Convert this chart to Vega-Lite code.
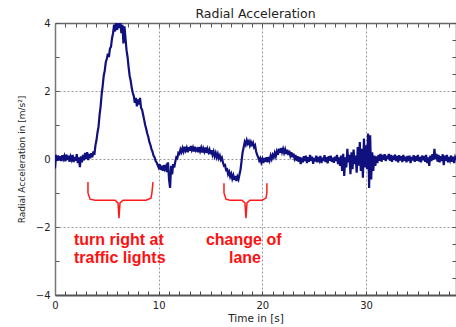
{
"$schema": "https://vega.github.io/schema/vega-lite/v6.json",
"width": 401, "height": 272,
"autosize": {"type": "none"},
"padding": {"left": 55, "top": 23, "right": 0, "bottom": 32},
"background": "white",
"title": {"text": "Radial Acceleration", "font": "DejaVu Sans", "fontSize": 12.5, "fontWeight": "normal", "color": "#222", "offset": 5, "dy": 7},
"config": {"view": {"stroke": null}},
"datasets": {
"sig": [
{"t":0.0,"a":-0.28},{"t":0.1,"a":0.12},{"t":0.2,"a":-0.05},{"t":0.3,"a":0.1},{"t":0.4,"a":-0.04},{"t":0.5,"a":0.08},{"t":0.6,"a":-0.06},{"t":0.7,"a":0.11},{"t":0.8,"a":0.0},{"t":0.9,"a":0.09},
{"t":1.0,"a":-0.07},{"t":1.1,"a":0.13},{"t":1.2,"a":-0.03},{"t":1.3,"a":0.1},{"t":1.4,"a":-0.08},{"t":1.5,"a":0.07},{"t":1.6,"a":-0.02},{"t":1.7,"a":0.12},{"t":1.8,"a":-0.09},{"t":1.9,"a":0.06},
{"t":2.0,"a":-0.05},{"t":2.1,"a":0.14},{"t":2.2,"a":-0.12},{"t":2.3,"a":0.05},{"t":2.4,"a":-0.24},{"t":2.5,"a":0.08},{"t":2.6,"a":-0.1},{"t":2.7,"a":0.12},{"t":2.8,"a":-0.04},{"t":2.9,"a":0.18},
{"t":3.0,"a":0.0},{"t":3.1,"a":0.2},{"t":3.2,"a":-0.03},{"t":3.3,"a":0.15},{"t":3.4,"a":0.02},{"t":3.5,"a":0.17},{"t":3.6,"a":0.05},{"t":3.7,"a":0.22},{"t":3.8,"a":0.12},{"t":3.9,"a":0.4},
{"t":4.0,"a":0.55},{"t":4.1,"a":0.78},{"t":4.2,"a":0.95},{"t":4.3,"a":1.3},{"t":4.4,"a":1.55},{"t":4.5,"a":1.9},{"t":4.6,"a":2.15},{"t":4.7,"a":2.45},{"t":4.8,"a":2.6},{"t":4.9,"a":2.85},
{"t":5.0,"a":2.95},{"t":5.1,"a":3.1},{"t":5.2,"a":3.0},{"t":5.3,"a":3.25},{"t":5.4,"a":3.3},{"t":5.5,"a":3.55},{"t":5.6,"a":3.7},{"t":5.7,"a":3.95},{"t":5.8,"a":3.75},{"t":5.9,"a":4.05},
{"t":6.0,"a":3.8},{"t":6.1,"a":4.05},{"t":6.2,"a":3.85},{"t":6.3,"a":4.05},{"t":6.4,"a":3.7},{"t":6.5,"a":3.95},{"t":6.6,"a":3.4},{"t":6.7,"a":3.9},{"t":6.8,"a":3.55},{"t":6.9,"a":3.2},
{"t":7.0,"a":3.0},{"t":7.1,"a":2.7},{"t":7.2,"a":2.45},{"t":7.3,"a":2.3},{"t":7.4,"a":2.1},{"t":7.5,"a":1.95},{"t":7.6,"a":1.85},{"t":7.7,"a":1.65},{"t":7.8,"a":1.8},{"t":7.9,"a":1.55},
{"t":8.0,"a":1.75},{"t":8.1,"a":1.6},{"t":8.2,"a":1.8},{"t":8.3,"a":1.5},{"t":8.4,"a":1.45},{"t":8.5,"a":1.3},{"t":8.6,"a":1.15},{"t":8.7,"a":1.0},{"t":8.8,"a":0.88},{"t":8.9,"a":0.75},
{"t":9.0,"a":0.65},{"t":9.1,"a":0.5},{"t":9.2,"a":0.42},{"t":9.3,"a":0.3},{"t":9.4,"a":0.22},{"t":9.5,"a":0.1},{"t":9.6,"a":0.05},{"t":9.7,"a":-0.05},{"t":9.8,"a":-0.1},{"t":9.9,"a":-0.18},
{"t":10.0,"a":-0.25},{"t":10.1,"a":-0.15},{"t":10.2,"a":-0.32},{"t":10.3,"a":-0.2},{"t":10.4,"a":-0.35},{"t":10.5,"a":-0.18},{"t":10.6,"a":-0.3},{"t":10.7,"a":-0.22},{"t":10.8,"a":-0.38},{"t":10.9,"a":-0.1},
{"t":11.0,"a":-0.6},{"t":11.1,"a":-0.85},{"t":11.2,"a":-0.2},{"t":11.3,"a":-0.45},{"t":11.4,"a":-0.15},{"t":11.5,"a":-0.25},{"t":11.6,"a":-0.08},{"t":11.7,"a":0.05},{"t":11.8,"a":0.02},{"t":11.9,"a":0.18},
{"t":12.0,"a":0.15},{"t":12.1,"a":0.28},{"t":12.2,"a":0.2},{"t":12.3,"a":0.32},{"t":12.4,"a":0.22},{"t":12.5,"a":0.36},{"t":12.6,"a":0.25},{"t":12.7,"a":0.33},{"t":12.8,"a":0.2},{"t":12.9,"a":0.35},
{"t":13.0,"a":0.24},{"t":13.1,"a":0.38},{"t":13.2,"a":0.26},{"t":13.3,"a":0.34},{"t":13.4,"a":0.22},{"t":13.5,"a":0.36},{"t":13.6,"a":0.25},{"t":13.7,"a":0.3},{"t":13.8,"a":0.2},{"t":13.9,"a":0.35},
{"t":14.0,"a":0.23},{"t":14.1,"a":0.33},{"t":14.2,"a":0.19},{"t":14.3,"a":0.31},{"t":14.4,"a":0.22},{"t":14.5,"a":0.34},{"t":14.6,"a":0.18},{"t":14.7,"a":0.3},{"t":14.8,"a":0.2},{"t":14.9,"a":0.28},
{"t":15.0,"a":0.14},{"t":15.1,"a":0.26},{"t":15.2,"a":0.12},{"t":15.3,"a":0.22},{"t":15.4,"a":0.08},{"t":15.5,"a":0.18},{"t":15.6,"a":0.05},{"t":15.7,"a":0.15},{"t":15.8,"a":0.02},{"t":15.9,"a":0.1},
{"t":16.0,"a":-0.02},{"t":16.1,"a":0.04},{"t":16.2,"a":-0.1},{"t":16.3,"a":-0.2},{"t":16.4,"a":-0.18},{"t":16.5,"a":-0.32},{"t":16.6,"a":-0.3},{"t":16.7,"a":-0.45},{"t":16.8,"a":-0.38},{"t":16.9,"a":-0.52},
{"t":17.0,"a":-0.44},{"t":17.1,"a":-0.58},{"t":17.2,"a":-0.48},{"t":17.3,"a":-0.62},{"t":17.4,"a":-0.5},{"t":17.5,"a":-0.65},{"t":17.6,"a":-0.52},{"t":17.7,"a":-0.6},{"t":17.8,"a":-0.45},{"t":17.9,"a":-0.3},
{"t":18.0,"a":-0.05},{"t":18.1,"a":0.2},{"t":18.2,"a":0.35},{"t":18.3,"a":0.5},{"t":18.4,"a":0.42},{"t":18.5,"a":0.55},{"t":18.6,"a":0.45},{"t":18.7,"a":0.52},{"t":18.8,"a":0.4},{"t":18.9,"a":0.5},
{"t":19.0,"a":0.42},{"t":19.1,"a":0.48},{"t":19.2,"a":0.35},{"t":19.3,"a":0.4},{"t":19.4,"a":0.22},{"t":19.5,"a":0.12},{"t":19.6,"a":0.05},{"t":19.7,"a":-0.05},{"t":19.8,"a":0.02},{"t":19.9,"a":-0.1},
{"t":20.0,"a":0.0},{"t":20.1,"a":-0.12},{"t":20.2,"a":0.03},{"t":20.3,"a":-0.08},{"t":20.4,"a":0.05},{"t":20.5,"a":-0.1},{"t":20.6,"a":0.06},{"t":20.7,"a":-0.04},{"t":20.8,"a":0.1},{"t":20.9,"a":0.0},
{"t":21.0,"a":0.12},{"t":21.1,"a":0.05},{"t":21.2,"a":0.18},{"t":21.3,"a":0.08},{"t":21.4,"a":0.22},{"t":21.5,"a":0.12},{"t":21.6,"a":0.3},{"t":21.7,"a":0.18},{"t":21.8,"a":0.32},{"t":21.9,"a":0.2},
{"t":22.0,"a":0.3},{"t":22.1,"a":0.18},{"t":22.2,"a":0.28},{"t":22.3,"a":0.15},{"t":22.4,"a":0.27},{"t":22.5,"a":0.12},{"t":22.6,"a":0.24},{"t":22.7,"a":0.1},{"t":22.8,"a":0.2},{"t":22.9,"a":0.05},
{"t":23.0,"a":0.16},{"t":23.1,"a":0.02},{"t":23.2,"a":0.12},{"t":23.3,"a":-0.05},{"t":23.4,"a":0.08},{"t":23.5,"a":-0.08},{"t":23.6,"a":0.06},{"t":23.7,"a":-0.15},{"t":23.8,"a":0.04},{"t":23.9,"a":-0.1},
{"t":24.0,"a":0.08},{"t":24.1,"a":-0.06},{"t":24.2,"a":0.1},{"t":24.3,"a":-0.12},{"t":24.4,"a":0.05},{"t":24.5,"a":-0.08},{"t":24.6,"a":0.12},{"t":24.7,"a":-0.05},{"t":24.8,"a":0.07},{"t":24.9,"a":-0.14},
{"t":25.0,"a":0.03},{"t":25.1,"a":-0.07},{"t":25.2,"a":0.1},{"t":25.3,"a":-0.1},{"t":25.4,"a":0.06},{"t":25.5,"a":-0.04},{"t":25.6,"a":0.09},{"t":25.7,"a":-0.12},{"t":25.8,"a":0.04},{"t":25.9,"a":-0.06},
{"t":26.0,"a":0.11},{"t":26.1,"a":-0.09},{"t":26.2,"a":0.05},{"t":26.3,"a":-0.13},{"t":26.4,"a":0.08},{"t":26.5,"a":-0.05},{"t":26.6,"a":0.1},{"t":26.7,"a":-0.08},{"t":26.8,"a":0.04},{"t":26.9,"a":-0.11},
{"t":27.0,"a":0.07},{"t":27.1,"a":-0.06},{"t":27.2,"a":0.12},{"t":27.3,"a":-0.15},{"t":27.4,"a":0.05},{"t":27.5,"a":-0.2},{"t":27.6,"a":0.1},{"t":27.7,"a":-0.35},{"t":27.8,"a":0.15},{"t":27.9,"a":-0.5},
{"t":28.0,"a":0.05},{"t":28.1,"a":-0.25},{"t":28.2,"a":0.3},{"t":28.3,"a":-0.1},{"t":28.4,"a":0.12},{"t":28.5,"a":-0.45},{"t":28.6,"a":0.2},{"t":28.7,"a":-0.3},{"t":28.8,"a":0.28},{"t":28.9,"a":-0.15},
{"t":29.0,"a":0.1},{"t":29.1,"a":-0.4},{"t":29.2,"a":0.35},{"t":29.3,"a":-0.2},{"t":29.4,"a":0.5},{"t":29.5,"a":-0.35},{"t":29.6,"a":0.3},{"t":29.7,"a":-0.55},{"t":29.8,"a":0.6},{"t":29.9,"a":-0.25},
{"t":30.0,"a":0.4},{"t":30.1,"a":-0.3},{"t":30.2,"a":0.75},{"t":30.3,"a":-0.85},{"t":30.4,"a":0.7},{"t":30.5,"a":-0.6},{"t":30.6,"a":0.2},{"t":30.7,"a":-0.35},{"t":30.8,"a":0.1},{"t":30.9,"a":-0.2},
{"t":31.0,"a":0.08},{"t":31.1,"a":-0.12},{"t":31.2,"a":0.12},{"t":31.3,"a":-0.05},{"t":31.4,"a":0.15},{"t":31.5,"a":-0.08},{"t":31.6,"a":0.12},{"t":31.7,"a":-0.02},{"t":31.8,"a":0.14},{"t":31.9,"a":-0.06},
{"t":32.0,"a":0.1},{"t":32.1,"a":0.0},{"t":32.2,"a":0.15},{"t":32.3,"a":-0.05},{"t":32.4,"a":0.12},{"t":32.5,"a":-0.08},{"t":32.6,"a":0.1},{"t":32.7,"a":-0.03},{"t":32.8,"a":0.13},{"t":32.9,"a":-0.06},
{"t":33.0,"a":0.09},{"t":33.1,"a":-0.1},{"t":33.2,"a":0.11},{"t":33.3,"a":-0.04},{"t":33.4,"a":0.08},{"t":33.5,"a":-0.09},{"t":33.6,"a":0.12},{"t":33.7,"a":-0.05},{"t":33.8,"a":0.07},{"t":33.9,"a":-0.1},
{"t":34.0,"a":0.09},{"t":34.1,"a":-0.06},{"t":34.2,"a":0.1},{"t":34.3,"a":-0.12},{"t":34.4,"a":0.06},{"t":34.5,"a":-0.04},{"t":34.6,"a":0.11},{"t":34.7,"a":-0.08},{"t":34.8,"a":0.08},{"t":34.9,"a":-0.05},
{"t":35.0,"a":0.12},{"t":35.1,"a":-0.07},{"t":35.2,"a":0.06},{"t":35.3,"a":-0.1},{"t":35.4,"a":0.1},{"t":35.5,"a":-0.04},{"t":35.6,"a":0.09},{"t":35.7,"a":-0.08},{"t":35.8,"a":0.12},{"t":35.9,"a":-0.12},
{"t":36.0,"a":0.05},{"t":36.1,"a":-0.2},{"t":36.2,"a":0.1},{"t":36.3,"a":-0.06},{"t":36.4,"a":0.14},{"t":36.5,"a":-0.03},{"t":36.6,"a":0.3},{"t":36.7,"a":0.0},{"t":36.8,"a":0.15},{"t":36.9,"a":-0.08},
{"t":37.0,"a":0.12},{"t":37.1,"a":-0.1},{"t":37.2,"a":0.08},{"t":37.3,"a":-0.06},{"t":37.4,"a":0.14},{"t":37.5,"a":-0.18},{"t":37.6,"a":0.1},{"t":37.7,"a":-0.05},{"t":37.8,"a":0.12},{"t":37.9,"a":-0.1},
{"t":38.0,"a":0.06},{"t":38.1,"a":-0.04},{"t":38.2,"a":0.1},{"t":38.3,"a":-0.08},{"t":38.4,"a":0.07},{"t":38.5,"a":-0.12},{"t":38.6,"a":0.05},{"t":38.7,"a":-0.03}
],
"brace": [
{"b":1,"i":0,"x":3.18,"y":-0.68},{"b":1,"i":1,"x":3.18,"y":-1.0},{"b":1,"i":2,"x":3.38,"y":-1.18},{"b":1,"i":3,"x":3.86,"y":-1.21},{"b":1,"i":4,"x":5.79,"y":-1.21},{"b":1,"i":5,"x":6.08,"y":-1.29},{"b":1,"i":6,"x":6.17,"y":-1.74},{"b":1,"i":7,"x":6.27,"y":-1.29},{"b":1,"i":8,"x":6.56,"y":-1.21},{"b":1,"i":9,"x":8.78,"y":-1.21},{"b":1,"i":10,"x":9.26,"y":-1.15},{"b":1,"i":11,"x":9.35,"y":-1.0},{"b":1,"i":12,"x":9.45,"y":-0.68},
{"b":2,"i":0,"x":16.3,"y":-0.71},{"b":2,"i":1,"x":16.3,"y":-1.0},{"b":2,"i":2,"x":16.49,"y":-1.18},{"b":2,"i":3,"x":16.88,"y":-1.21},{"b":2,"i":4,"x":18.03,"y":-1.21},{"b":2,"i":5,"x":18.32,"y":-1.29},{"b":2,"i":6,"x":18.42,"y":-1.74},{"b":2,"i":7,"x":18.52,"y":-1.29},{"b":2,"i":8,"x":18.8,"y":-1.21},{"b":2,"i":9,"x":19.96,"y":-1.21},{"b":2,"i":10,"x":20.35,"y":-1.15},{"b":2,"i":11,"x":20.44,"y":-1.0},{"b":2,"i":12,"x":20.44,"y":-0.71}
],
"notes": [
{"x":1.83,"y":-2.53,"txt":"turn right at"},
{"x":1.83,"y":-3.06,"txt":"traffic lights"},
{"x":14.56,"y":-2.53,"txt":"change of"},
{"x":16.78,"y":-3.06,"txt":"lane"}
]
},
"resolve": {"axis": {"x": "independent", "y": "independent"}},
"layer": [
{
"data": {"name": "sig"},
"mark": {"type": "line", "color": "#10107f", "strokeWidth": 2.2, "clip": true},
"encoding": {
"x": {"field": "t", "type": "quantitative", "scale": {"domain": [0, 38.68], "nice": false, "zero": false},
 "axis": {"orient": "bottom", "values": [0,1,2,3,4,5,6,7,8,9,10,11,12,13,14,15,16,17,18,19,20,21,22,23,24,25,26,27,28,29,30,31,32,33,34,35,36,37,38],
  "format": "d", "labelExpr": "datum.value % 10 === 0 ? datum.label : ''", "labelOverlap": false, "labelFlush": false,
  "tickSize": -4, "tickColor": "#444", "tickWidth": 1, "labelPadding": 9,
  "domainColor": "#555", "domainWidth": 2,
  "grid": true, "gridColor": "#999", "gridDash": [2, 2], "gridWidth": 1,
  "gridOpacity": {"condition": {"test": "datum.value % 10 === 0 && datum.value > 0", "value": 1}, "value": 0},
  "labelFont": "DejaVu Sans", "labelFontSize": 10, "labelColor": "#222",
  "title": "Time in [s]", "titleFont": "DejaVu Sans", "titleFontSize": 10.5, "titleFontWeight": "normal", "titleColor": "#222", "titlePadding": 3}},
"y": {"field": "a", "type": "quantitative", "scale": {"domain": [-4, 4], "nice": false, "zero": false},
 "axis": {"orient": "left", "values": [-4,-3.5,-3,-2.5,-2,-1.5,-1,-0.5,0,0.5,1,1.5,2,2.5,3,3.5,4],
  "format": "d", "labelExpr": "datum.value % 2 === 0 ? datum.label : ''", "labelOverlap": false, "labelFlush": false,
  "tickSize": -4, "tickColor": "#555", "tickWidth": 1, "labelPadding": 9,
  "domainColor": "#777", "domainWidth": 1.5,
  "grid": true, "gridColor": "#999", "gridDash": [2, 2], "gridWidth": 1,
  "gridOpacity": {"condition": {"test": "datum.value % 2 === 0 && abs(datum.value) < 4", "value": 1}, "value": 0},
  "labelFont": "DejaVu Sans", "labelFontSize": 10, "labelColor": "#222",
  "title": "Radial Acceleration in [m/s²]", "titleFont": "DejaVu Sans", "titleFontSize": 9, "titleFontWeight": "normal", "titleColor": "#222", "titlePadding": 9}}
}
},
{
"data": {"name": "brace"},
"mark": {"type": "line", "color": "#ff1a1a", "strokeWidth": 1.5},
"encoding": {
"x": {"field": "x", "type": "quantitative", "scale": {"domain": [0, 38.68], "nice": false, "zero": false},
 "axis": {"orient": "top", "values": [0,1,2,3,4,5,6,7,8,9,10,11,12,13,14,15,16,17,18,19,20,21,22,23,24,25,26,27,28,29,30,31,32,33,34,35,36,37,38],
  "labels": false, "grid": false, "title": null, "tickSize": -4, "tickColor": "#555", "domainColor": "#666", "domainWidth": 1.5}},
"y": {"field": "y", "type": "quantitative", "scale": {"domain": [-4, 4], "nice": false, "zero": false},
 "axis": {"orient": "right", "values": [-4,-3.5,-3,-2.5,-2,-1.5,-1,-0.5,0,0.5,1,1.5,2,2.5,3,3.5,4],
  "labels": false, "grid": false, "title": null, "tickSize": -4, "tickColor": "#555", "domainColor": "#666", "domainWidth": 1.5}},
"detail": {"field": "b", "type": "nominal"},
"order": {"field": "i", "type": "quantitative"}
}
},
{
"data": {"name": "notes"},
"mark": {"type": "text", "color": "#ff1010", "font": "Liberation Sans", "fontWeight": "bold", "fontSize": 16, "align": "left", "baseline": "alphabetic"},
"encoding": {
"x": {"field": "x", "type": "quantitative", "scale": {"domain": [0, 38.68], "nice": false, "zero": false}, "axis": null},
"y": {"field": "y", "type": "quantitative", "scale": {"domain": [-4, 4], "nice": false, "zero": false}, "axis": null},
"text": {"field": "txt"}
}
}
]
}
